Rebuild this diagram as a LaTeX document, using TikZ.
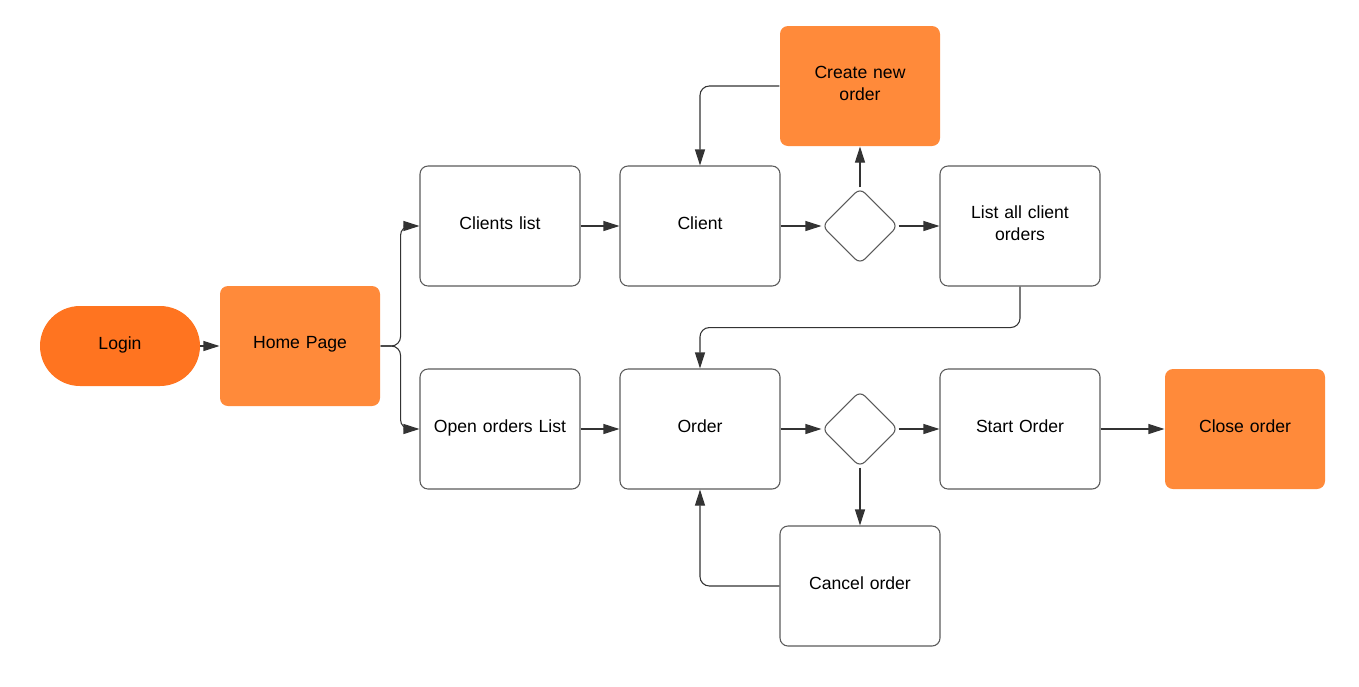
\documentclass[tikz,border=0pt]{standalone}
\usepackage{fontspec}
\setmainfont{Liberation Sans}
\usetikzlibrary{shapes.geometric,arrows.meta,calc}
\definecolor{darkorange}{RGB}{255,116,32}
\definecolor{lightorange}{RGB}{255,138,58}
\definecolor{boxline}{RGB}{90,90,90}
\definecolor{conncol}{RGB}{51,51,51}
\tikzset{
  labeltext/.style={font=\fontsize{13.2}{16.5}\selectfont, text depth=4.6pt},
  twoline/.style={text depth=21.1pt},
  box/.style={draw=boxline, line width=0.8pt, rounded corners=6pt, minimum width=120pt, minimum height=90pt, inner sep=2pt, align=center, text width=112pt, labeltext},
  obox/.style={box, draw=none, fill=lightorange},
  stadium/.style={fill=darkorange, rounded corners=30pt, minimum width=120pt, minimum height=60pt, inner sep=0pt, align=center, labeltext},
  decision/.style={shape=diamond, draw=boxline, line width=0.8pt, rounded corners=5pt, minimum width=57pt, minimum height=57pt, inner sep=0pt},
  conn/.style={draw=conncol, line width=0.8pt, -{Triangle[length=12pt,width=7.5pt]}, rounded corners=7pt}
}
\begin{document}
\begin{tikzpicture}[x=0.75pt,y=-0.75pt]
\useasboundingbox (0,0) rectangle (1359,686);
\node[stadium] (login) at (120,346) {Login};
\node[obox] (home) at (300,346) {Home Page};
\node[box] (clients) at (500,226) {Clients list};
\node[box] (client) at (700,226) {Client};
\node[decision] (d1) at (860,226) {};
\node[box,twoline] (list) at (1020,226) {List all client\\orders};
\node[obox,twoline] (create) at (860,86) {Create new\\order};
\node[box] (open) at (500,429) {Open orders List};
\node[box] (order) at (700,429) {Order};
\node[decision] (d2) at (860,429) {};
\node[box] (start) at (1020,429) {Start Order};
\node[obox] (close) at (1245,429) {Close order};
\node[box] (cancel) at (860,586) {Cancel order};

\draw[conn] (login) -- (home);
\draw[conn] (home.east) -- ++(20,0) |- (clients.west);
\draw[conn] (home.east) -- ++(20,0) |- (open.west);
\draw[conn] (clients) -- (client);
\draw[conn] (client) -- (d1);
\draw[conn] (d1) -- (list);
\draw[conn] (d1) -- (create);
\draw[conn] (create.west) -| (client.north);
\draw[conn] (list.south) -- ++(0,41) -| (order.north);
\draw[conn] (open) -- (order);
\draw[conn] (order) -- (d2);
\draw[conn] (d2) -- (start);
\draw[conn] (start) -- (close);
\draw[conn] (d2) -- (cancel);
\draw[conn] (cancel.west) -| (order.south);
\end{tikzpicture}
\end{document}
